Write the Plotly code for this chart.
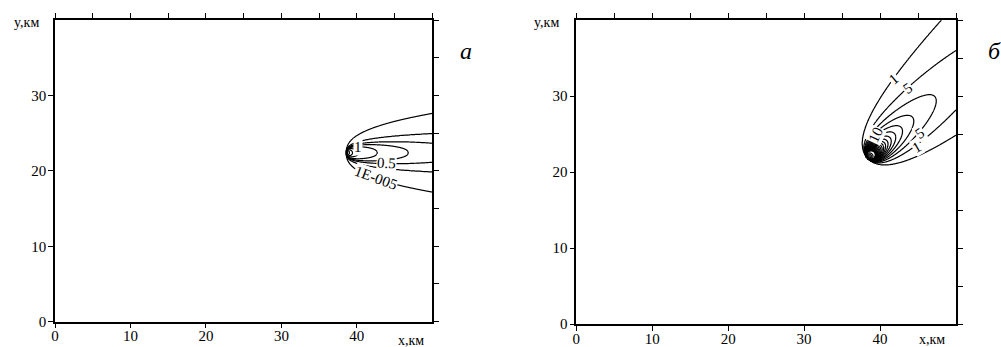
import numpy as np
import plotly.graph_objects as go

# ---------------- data / model parameters ----------------
# Panel a: plume along +x
A_SOURCE = (38.6, 22.4)      # km
A_ANGLE = 0.0                 # deg
A_STRENGTH = 8.2
A_SPREAD_K = 0.67
A_SPREAD_B = 0.43
A_PROFILE_Q = 2.4
A_LEVELS = [1e-5, 0.1, 0.5, 1, 2, 5, 10, 20, 50, 100, 200, 500, 1000]

# Panel b: plume toward north-east
B_SOURCE = (38.36, 21.82)
B_ANGLE = 42.5
B_STRENGTH = 120.0
B_SPREAD_K = 0.96
B_SPREAD_B = 0.56
B_PROFILE_Q = 2.0
B_LEVELS = [1] + list(range(5, 105, 5)) + [150, 200, 300, 500, 1000]

X_TICKS = [0, 10, 20, 30, 40]
Y_TICKS = [0, 10, 20, 30]
X_MINOR = list(range(0, 55, 5))
Y_MINOR = list(range(0, 45, 5))
X_RANGE = [0, 50]
Y_RANGE = [0, 40]

A_LABELS = [("1E-005", 42.6, 19.1, 20), ("0.5", 43.9, 21.0, 3), ("1", 40.1, 23.1, 0)]
B_LABELS = [("1", 41.8, 32.2, -40), ("5", 43.7, 31.0, -35), ("5", 45.3, 25.1, -35),
            ("1", 44.9, 23.3, -30), ("10", 39.4, 24.9, -65)]


def field(xs, ys, src, angle, strength, k, b, q):
    X, Y = np.meshgrid(xs, ys)
    th = np.radians(angle)
    dx, dy = X - src[0], Y - src[1]
    u = dx * np.cos(th) + dy * np.sin(th)
    v = -dx * np.sin(th) + dy * np.cos(th)
    C = np.zeros_like(X)
    m = u > 1e-6
    sig = k * u[m] ** b
    C[m] = strength / u[m] * np.exp(-(np.abs(v[m]) / sig) ** q)
    return C


def to_index(C, levels):
    lv = np.log(np.array([levels[0] * 1e-4] + list(levels)))
    fp = np.arange(-1, len(levels))
    logC = np.log(np.maximum(C, 1e-30))
    return np.round(np.interp(logC, lv, fp, left=-1, right=len(levels)), 4)


xa = np.round(np.arange(36, 50.0001, 0.05), 3)
ya = np.round(np.arange(14, 31.0001, 0.05), 3)
Wa = to_index(field(xa, ya, A_SOURCE, A_ANGLE, A_STRENGTH, A_SPREAD_K, A_SPREAD_B, A_PROFILE_Q), A_LEVELS)

xb = np.round(np.arange(33, 50.0001, 0.06), 3)
xb[-1] = 50.0
yb = np.round(np.arange(15, 40.0001, 0.06), 3)
yb[-1] = 40.0
Wb = to_index(field(xb, yb, B_SOURCE, B_ANGLE, B_STRENGTH, B_SPREAD_K, B_SPREAD_B, B_PROFILE_Q), B_LEVELS)

BLACK = [[0, "black"], [1, "black"]]
SERIF = "Liberation Serif, Times New Roman, serif"

fig = go.Figure()
for xs, ys, W, lv, xr, yr in [(xa, ya, Wa, A_LEVELS, "x", "y"), (xb, yb, Wb, B_LEVELS, "x2", "y2")]:
    fig.add_trace(go.Contour(
        x=xs, y=ys, z=W, xaxis=xr, yaxis=yr, autocontour=False,
        contours=dict(start=0, end=len(lv) - 1, size=1, coloring="lines", showlabels=False),
        colorscale=BLACK, showscale=False, line=dict(width=1.2), hoverinfo="skip"))

# dummy traces for top / right tick axes
for xr, yr in [("x3", "y"), ("x", "y3"), ("x4", "y2"), ("x2", "y4")]:
    fig.add_trace(go.Scatter(x=[], y=[], xaxis=xr, yaxis=yr, showlegend=False, hoverinfo="skip"))

dom_xa = [55 / 1001, 432.3 / 1001]
dom_ya = [(347 - 321.7) / 347, (347 - 20) / 347]
dom_xb = [576.3 / 1001, 956 / 1001]
dom_yb = [(347 - 324) / 347, (347 - 20) / 347]

tickfont = dict(family=SERIF, size=15, color="black")
base = dict(showgrid=False, zeroline=False, showline=True, linecolor="black", linewidth=1.5,
            ticks="outside", ticklen=5, tickwidth=1.2, tickcolor="black", tickfont=tickfont,
            fixedrange=True, automargin=False)

layout = dict(
    width=1001, height=347, margin=dict(l=0, r=0, t=0, b=0, autoexpand=False),
    paper_bgcolor="white", plot_bgcolor="white", showlegend=False,
    xaxis=dict(base, domain=dom_xa, range=X_RANGE, tickvals=X_TICKS, anchor="y", ticklabelstandoff=-5),
    yaxis=dict(base, domain=dom_ya, range=Y_RANGE, tickvals=Y_TICKS, anchor="x", ticklabelstandoff=-1),
    xaxis2=dict(base, domain=dom_xb, range=X_RANGE, tickvals=X_TICKS, anchor="y2", ticklabelstandoff=-5),
    yaxis2=dict(base, domain=dom_yb, range=Y_RANGE, tickvals=Y_TICKS, anchor="x2", ticklabelstandoff=-1),
    xaxis3=dict(base, range=X_RANGE, tickvals=X_MINOR, showticklabels=False, overlaying="x", side="top", anchor="y"),
    yaxis3=dict(base, range=Y_RANGE, tickvals=Y_MINOR, showticklabels=False, overlaying="y", side="right", anchor="x"),
    xaxis4=dict(base, range=X_RANGE, tickvals=X_MINOR, showticklabels=False, overlaying="x2", side="top", anchor="y2"),
    yaxis4=dict(base, range=Y_RANGE, tickvals=Y_MINOR, showticklabels=False, overlaying="y2", side="right", anchor="x2"),
)
fig.update_layout(**layout)

ann = []
for txt, x, y, ang in A_LABELS:
    ann.append(dict(text=txt, x=x, y=y, xref="x", yref="y", showarrow=False, textangle=ang,
                    xanchor="center", yanchor="middle",
                    bgcolor="white", borderpad=0, font=dict(family=SERIF, size=15, color="black")))
for txt, x, y, ang in B_LABELS:
    ann.append(dict(text=txt, x=x, y=y, xref="x2", yref="y2", showarrow=False, textangle=ang,
                    xanchor="center", yanchor="middle",
                    bgcolor="white", borderpad=0, font=dict(family=SERIF, size=15, color="black")))
small = dict(family=SERIF, size=14, color="black")


def paper_text(txt, px, py, font):
    return dict(text=txt, x=px / 1001, y=1 - py / 347, xref="paper", yref="paper", showarrow=False,
                xanchor="center", yanchor="middle", font=font)


ann += [
    paper_text("y,км", 26, 22, small),
    paper_text("y,км", 546, 22, small),
    paper_text("x,км", 411, 340, small),
    paper_text("x,км", 932, 339, small),
    paper_text("<i>a</i>", 466, 51, dict(family=SERIF, size=24, color="black")),
    paper_text("<i>б</i>", 994, 51, dict(family=SERIF, size=24, color="black")),
]
fig.update_layout(annotations=ann)

fig.write_html("out.html", config={"displayModeBar": False},
               post_script="document.body.style.margin='0';document.body.style.overflow='hidden';")
